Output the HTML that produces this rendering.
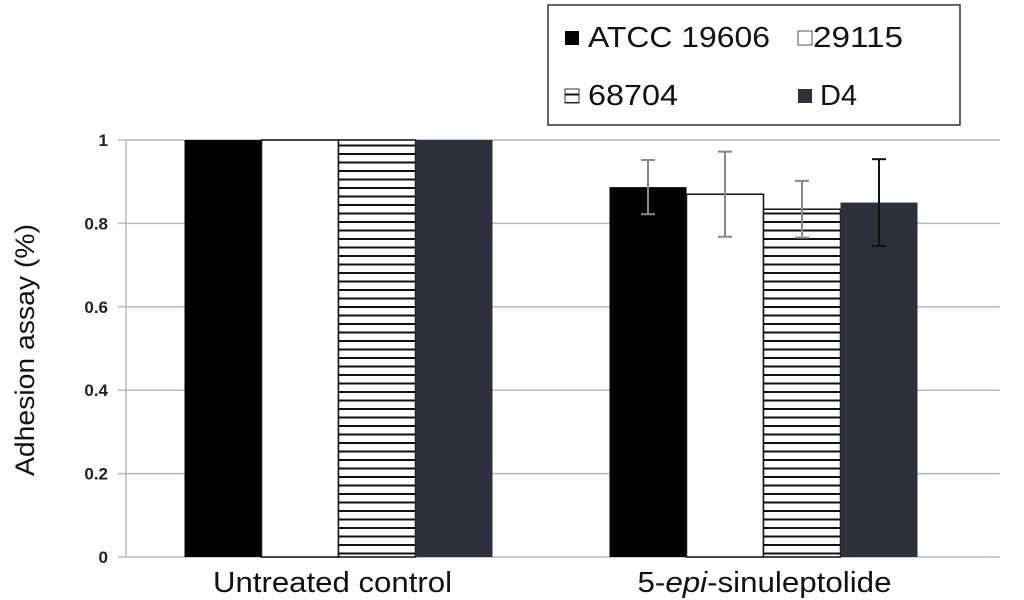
<!DOCTYPE html>
<html><head><meta charset="utf-8"><style>
body{margin:0;background:#fff;}
svg{display:block;font-family:"Liberation Sans",Arial,sans-serif;}
</style></head><body>
<svg id="chart" width="1024" height="600">
<defs>
<pattern id="stripes" patternUnits="userSpaceOnUse" width="8" height="8.5">
<rect width="8" height="8.5" fill="#fff"/><rect y="0" width="8" height="2" fill="#111"/>
</pattern>
</defs>
<g id="grid"></g>
<g id="bars"></g>
<g id="errs"></g>
<g id="axes"></g>
<text transform="translate(34,350) rotate(-90)" text-anchor="middle" font-size="27" fill="#111" textLength="252" lengthAdjust="spacingAndGlyphs">Adhesion assay (%)</text>
<g>
<rect x="548" y="5" width="412" height="120" fill="#fff" stroke="#333" stroke-width="1.5"/>
<g><rect x="565" y="31" width="14" height="14" fill="#000"/><text x="588" y="47" font-size="29" fill="#111" textLength="182" lengthAdjust="spacingAndGlyphs">ATCC 19606</text></g>
<g><rect x="798" y="31" width="14" height="14" fill="#fff" stroke="#555"/><text x="813" y="47" font-size="29" fill="#111" textLength="90" lengthAdjust="spacingAndGlyphs">29115</text></g>
<g><rect x="565" y="89" width="14" height="14" fill="url(#stripes)" stroke="#333"/><text x="588" y="105" font-size="29" fill="#111" textLength="90" lengthAdjust="spacingAndGlyphs">68704</text></g>
<g><rect x="798" y="89" width="14" height="14" fill="#2e313b"/><text x="820" y="105" font-size="29" fill="#111">D4</text></g>
</g>
</svg>
<script>
const categories=["Untreated control","5-epi-sinuleptolide"];
const seriesNames=["ATCC 19606","29115","68704","D4"];
const atcc=[1,0.887];
const s29115=[1,0.870];
const s68704=[1,0.834];
const d4=[1,0.850];
const errAtcc=[0,0.065];
const err29115=[0,0.102];
const err68704=[0,0.068];
const errD4=[0,0.104];
const yTicks=[0,0.2,0.4,0.6,0.8,1];
const yTickLabels=["0","0.2","0.4","0.6","0.8","1"];

const NS="http://www.w3.org/2000/svg";
const X0=126,X1=976,Y0=557,Y1=140;
const y=v=>Y0-(v)*(Y0-Y1);
const catW=(X1-X0)/categories.length;
const barW=77;
const series=[atcc,s29115,s68704,d4];
const errs=[errAtcc,err29115,err68704,errD4];
const fills=["#000","#fff","url(#stripes)","#2e313b"];
const errColors=["#888","#888","#888","#111"];
const catLen=[239,254];
function mk(t,a,p){const e=document.createElementNS(NS,t);for(const k in a)e.setAttribute(k,a[k]);p.appendChild(e);return e;}
const grid=document.getElementById('grid'),axes=document.getElementById('axes'),bars=document.getElementById('bars'),eg=document.getElementById('errs');
yTicks.forEach((t,i)=>{
 const l=mk('line',{x1:118,x2:1000,y1:y(t),y2:y(t),stroke:'#b4b8c8','stroke-width':1.5},grid);
 
 
 const tx=mk('text',{x:108,y:y(t)+6,'text-anchor':'end','font-size':17,'font-weight':'bold',fill:'#222'},axes);
 tx.textContent=yTickLabels[i];
 
 
});
const ax=mk('line',{x1:X0,x2:X0,y1:Y1,y2:Y0,stroke:'#b4b8c8','stroke-width':1.5},axes);


categories.forEach((c,ci)=>{
 const cx=X0+catW*(ci+0.5);
 series.forEach((s,si)=>{
  const bx=cx-2*barW+si*barW;
  const r=mk('rect',{x:bx,y:y(s[ci]),width:barW,height:Y0-y(s[ci]),fill:fills[si],stroke:si===1||si===2?'#111':'none','stroke-width':1.5},bars);
  
  
  const e=errs[si][ci];
  if(e>0){
   const ex=bx+barW/2,col=errColors[si];
   const g=mk('g',{stroke:col,'stroke-width':2},eg);
   
   
   mk('line',{x1:ex,x2:ex,y1:y(s[ci]+e),y2:y(s[ci]-e)},g);
   mk('line',{x1:ex-7,x2:ex+7,y1:y(s[ci]+e),y2:y(s[ci]+e)},g);
   mk('line',{x1:ex-7,x2:ex+7,y1:y(s[ci]-e),y2:y(s[ci]-e)},g);
  }
 });
 const t=mk('text',{x:cx+(ci?1:-6),y:592,'text-anchor':'middle','font-size':29,fill:'#111',textLength:catLen[ci],lengthAdjust:'spacingAndGlyphs'},axes);
 
 
 if(c.indexOf('-epi-')>=0){
  const p=c.split('epi');
  const a=document.createElementNS(NS,'tspan');a.textContent=p[0];t.appendChild(a);
  const b=document.createElementNS(NS,'tspan');b.setAttribute('font-style','italic');b.textContent='epi';t.appendChild(b);
  const d=document.createElementNS(NS,'tspan');d.textContent=p[1];t.appendChild(d);
 } else t.textContent=c;
});
</script>
</body></html>
